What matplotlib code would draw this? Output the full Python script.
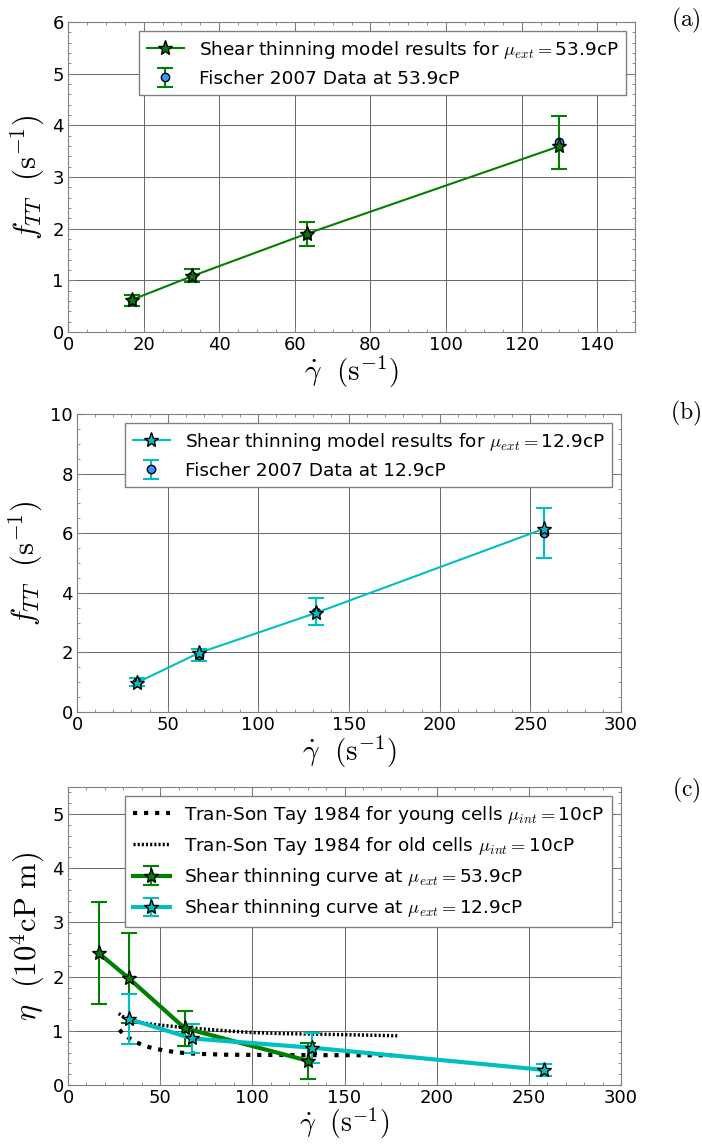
import numpy as np
import matplotlib
matplotlib.use('Agg')
import matplotlib.pyplot as plt
from matplotlib.ticker import AutoMinorLocator

# panel (a): mu_ext = 53.9 cP
shear_a = [16.8, 32.8, 63.1, 129.8]
model_a = [0.62, 1.08, 1.90, 3.59]
fischer_a = [0.61, 1.09, 1.89, 3.67]
fischer_err_a = [0.10, 0.13, 0.23, 0.51]

# panel (b): mu_ext = 12.9 cP
shear_b = [32.9, 67.1, 132.0, 257.5]
model_b = [0.98, 1.98, 3.33, 6.15]
fischer_b = [1.00, 1.91, 3.36, 6.01]
fischer_err_b = [0.13, 0.21, 0.45, 0.84]

# panel (c): effective viscosity
visc_x_539 = [16.8, 33.0, 63.3, 130.0]
visc_539 = [2.43, 1.97, 1.05, 0.45]
visc_err_539 = [0.94, 0.83, 0.32, 0.33]
visc_x_129 = [33.0, 67.3, 132.5, 258.0]
visc_129 = [1.22, 0.86, 0.69, 0.28]
visc_err_129 = [0.46, 0.27, 0.28, 0.115]

tst_x = [27.9, 30, 33, 37, 41, 46, 52, 58, 63.3, 72, 86, 100, 116, 135, 155, 176]
tst_young = [1.02, 0.94, 0.87, 0.79, 0.73, 0.68, 0.64, 0.61, 0.59, 0.575, 0.56, 0.557, 0.555, 0.552, 0.551, 0.55]
tst_old_x = [27.5, 30, 33, 38, 45.9, 55, 63.3, 75, 86, 100, 116, 135, 150, 165, 178.6]
tst_old = [1.32, 1.26, 1.21, 1.16, 1.12, 1.09, 1.06, 1.03, 1.0, 0.97, 0.95, 0.94, 0.93, 0.92, 0.91]

plt.rcParams.update({
    'mathtext.fontset': 'cm',
    'font.size': 13,
    'xtick.direction': 'in',
    'ytick.direction': 'in',
    'xtick.top': True,
    'ytick.right': True,
    'xtick.minor.visible': True,
    'ytick.minor.visible': True,
    'xtick.major.pad': 3,
    'ytick.major.pad': 3,
    'xtick.color': '0.5',
    'ytick.color': '0.5',
    'xtick.labelcolor': 'black',
    'ytick.labelcolor': 'black',
    'axes.edgecolor': '0.5',
    'legend.numpoints': 1,
    'legend.fancybox': False,
    'legend.edgecolor': '0.5',
    'legend.framealpha': 1,
    'legend.fontsize': 13.3,
})

GREEN = (0, 0.5, 0)
CYAN = (0, 0.75, 0.75)
BLUE = '#3399ff'

fig = plt.figure(figsize=(7.02, 11.44), dpi=100)
ax_a = fig.add_axes([0.0969, 0.7098, 0.8077, 0.2710])
ax_b = fig.add_axes([0.1097, 0.3776, 0.7749, 0.2605])
ax_c = fig.add_axes([0.0969, 0.0515, 0.7877, 0.2606])

xlab = r'$\dot{\gamma}\ \ (\mathrm{s}^{-1})$'
flab = r'$f_{TT}\ \ (\mathrm{s}^{-1})$'


def style_axes(ax):
    ax.grid(True, which='major', color='0.4', linestyle='-', linewidth=0.7)
    ax.set_axisbelow(True)
    ax.xaxis.set_minor_locator(AutoMinorLocator())
    ax.yaxis.set_minor_locator(AutoMinorLocator())
    ax.tick_params(which='major', length=4)
    ax.tick_params(which='minor', length=2)


# (a)
ax_a.plot(shear_a, model_a, '-*', color=GREEN, lw=1.5, ms=11, mfc=GREEN, mec='k',
          zorder=4, label=r'Shear thinning model results for $\mu_{ext}=$53.9cP')
ax_a.errorbar(shear_a, fischer_a, yerr=fischer_err_a, fmt='o', color=BLUE, mec='k',
              ms=6, ecolor=GREEN, elinewidth=1.5, capsize=6, capthick=1.5, zorder=3,
              label='Fischer 2007 Data at 53.9cP')
ax_a.set_xlim(0, 150)
ax_a.set_ylim(0, 6)
ax_a.set_xticks(np.arange(0, 141, 20))
ax_a.set_yticks(np.arange(0, 7, 1))
ax_a.set_xlabel(xlab, fontsize=21, labelpad=0)
ax_a.set_ylabel(flab, fontsize=22)
style_axes(ax_a)
ax_a.legend(loc='upper right')

# (b)
ax_b.plot(shear_b, model_b, '-*', color=CYAN, lw=1.5, ms=11, mfc=CYAN, mec='k',
          zorder=4, label=r'Shear thinning model results for $\mu_{ext}=$12.9cP')
ax_b.errorbar(shear_b, fischer_b, yerr=fischer_err_b, fmt='o', color=BLUE, mec='k',
              ms=6, ecolor=CYAN, elinewidth=1.5, capsize=6, capthick=1.5, zorder=3,
              label='Fischer 2007 Data at 12.9cP')
ax_b.set_xlim(0, 300)
ax_b.set_ylim(0, 10)
ax_b.set_xticks(np.arange(0, 301, 50))
ax_b.set_yticks(np.arange(0, 11, 2))
ax_b.set_xlabel(xlab, fontsize=21, labelpad=0)
ax_b.set_ylabel(flab, fontsize=22)
style_axes(ax_b)
ax_b.legend(loc='upper right')

# (c)
ax_c.plot(tst_x, tst_young, ':', color='k', lw=3,
          label=r'Tran-Son Tay 1984 for young cells $\mu_{int}=$10cP')
ax_c.plot(tst_old_x, tst_old, color='k', lw=2.5, dashes=(0.6, 0.6),
          label=r'Tran-Son Tay 1984 for old cells $\mu_{int}=$10cP')
ax_c.errorbar(visc_x_539, visc_539, yerr=visc_err_539, fmt='-*', color=GREEN, lw=3,
              ms=11, mfc=GREEN, mec='k', elinewidth=1.5, capsize=6, capthick=1.5,
              label=r'Shear thinning curve at $\mu_{ext}=$53.9cP')
ax_c.errorbar(visc_x_129, visc_129, yerr=visc_err_129, fmt='-*', color=CYAN, lw=3,
              ms=11, mfc=CYAN, mec='k', elinewidth=1.5, capsize=6, capthick=1.5,
              label=r'Shear thinning curve at $\mu_{ext}=$12.9cP')
ax_c.set_xlim(0, 300)
ax_c.set_ylim(0, 5.5)
ax_c.set_xticks(np.arange(0, 301, 50))
ax_c.set_yticks(np.arange(0, 6, 1))
ax_c.set_xlabel(xlab, fontsize=20, labelpad=-1)
ax_c.set_ylabel(r'$\eta\ \ (10^4\mathrm{cP\ m})$', fontsize=22)
style_axes(ax_c)
ax_c.legend(loc='upper right')

for lab, y in [('a', 0.982), ('b', 0.639), ('c', 0.309)]:
    fig.text(0.977, y, r'$\mathrm{(%s)}$' % lab, fontsize=17, ha='center', va='center')

fig.savefig('out.png', dpi=100, facecolor='white')
